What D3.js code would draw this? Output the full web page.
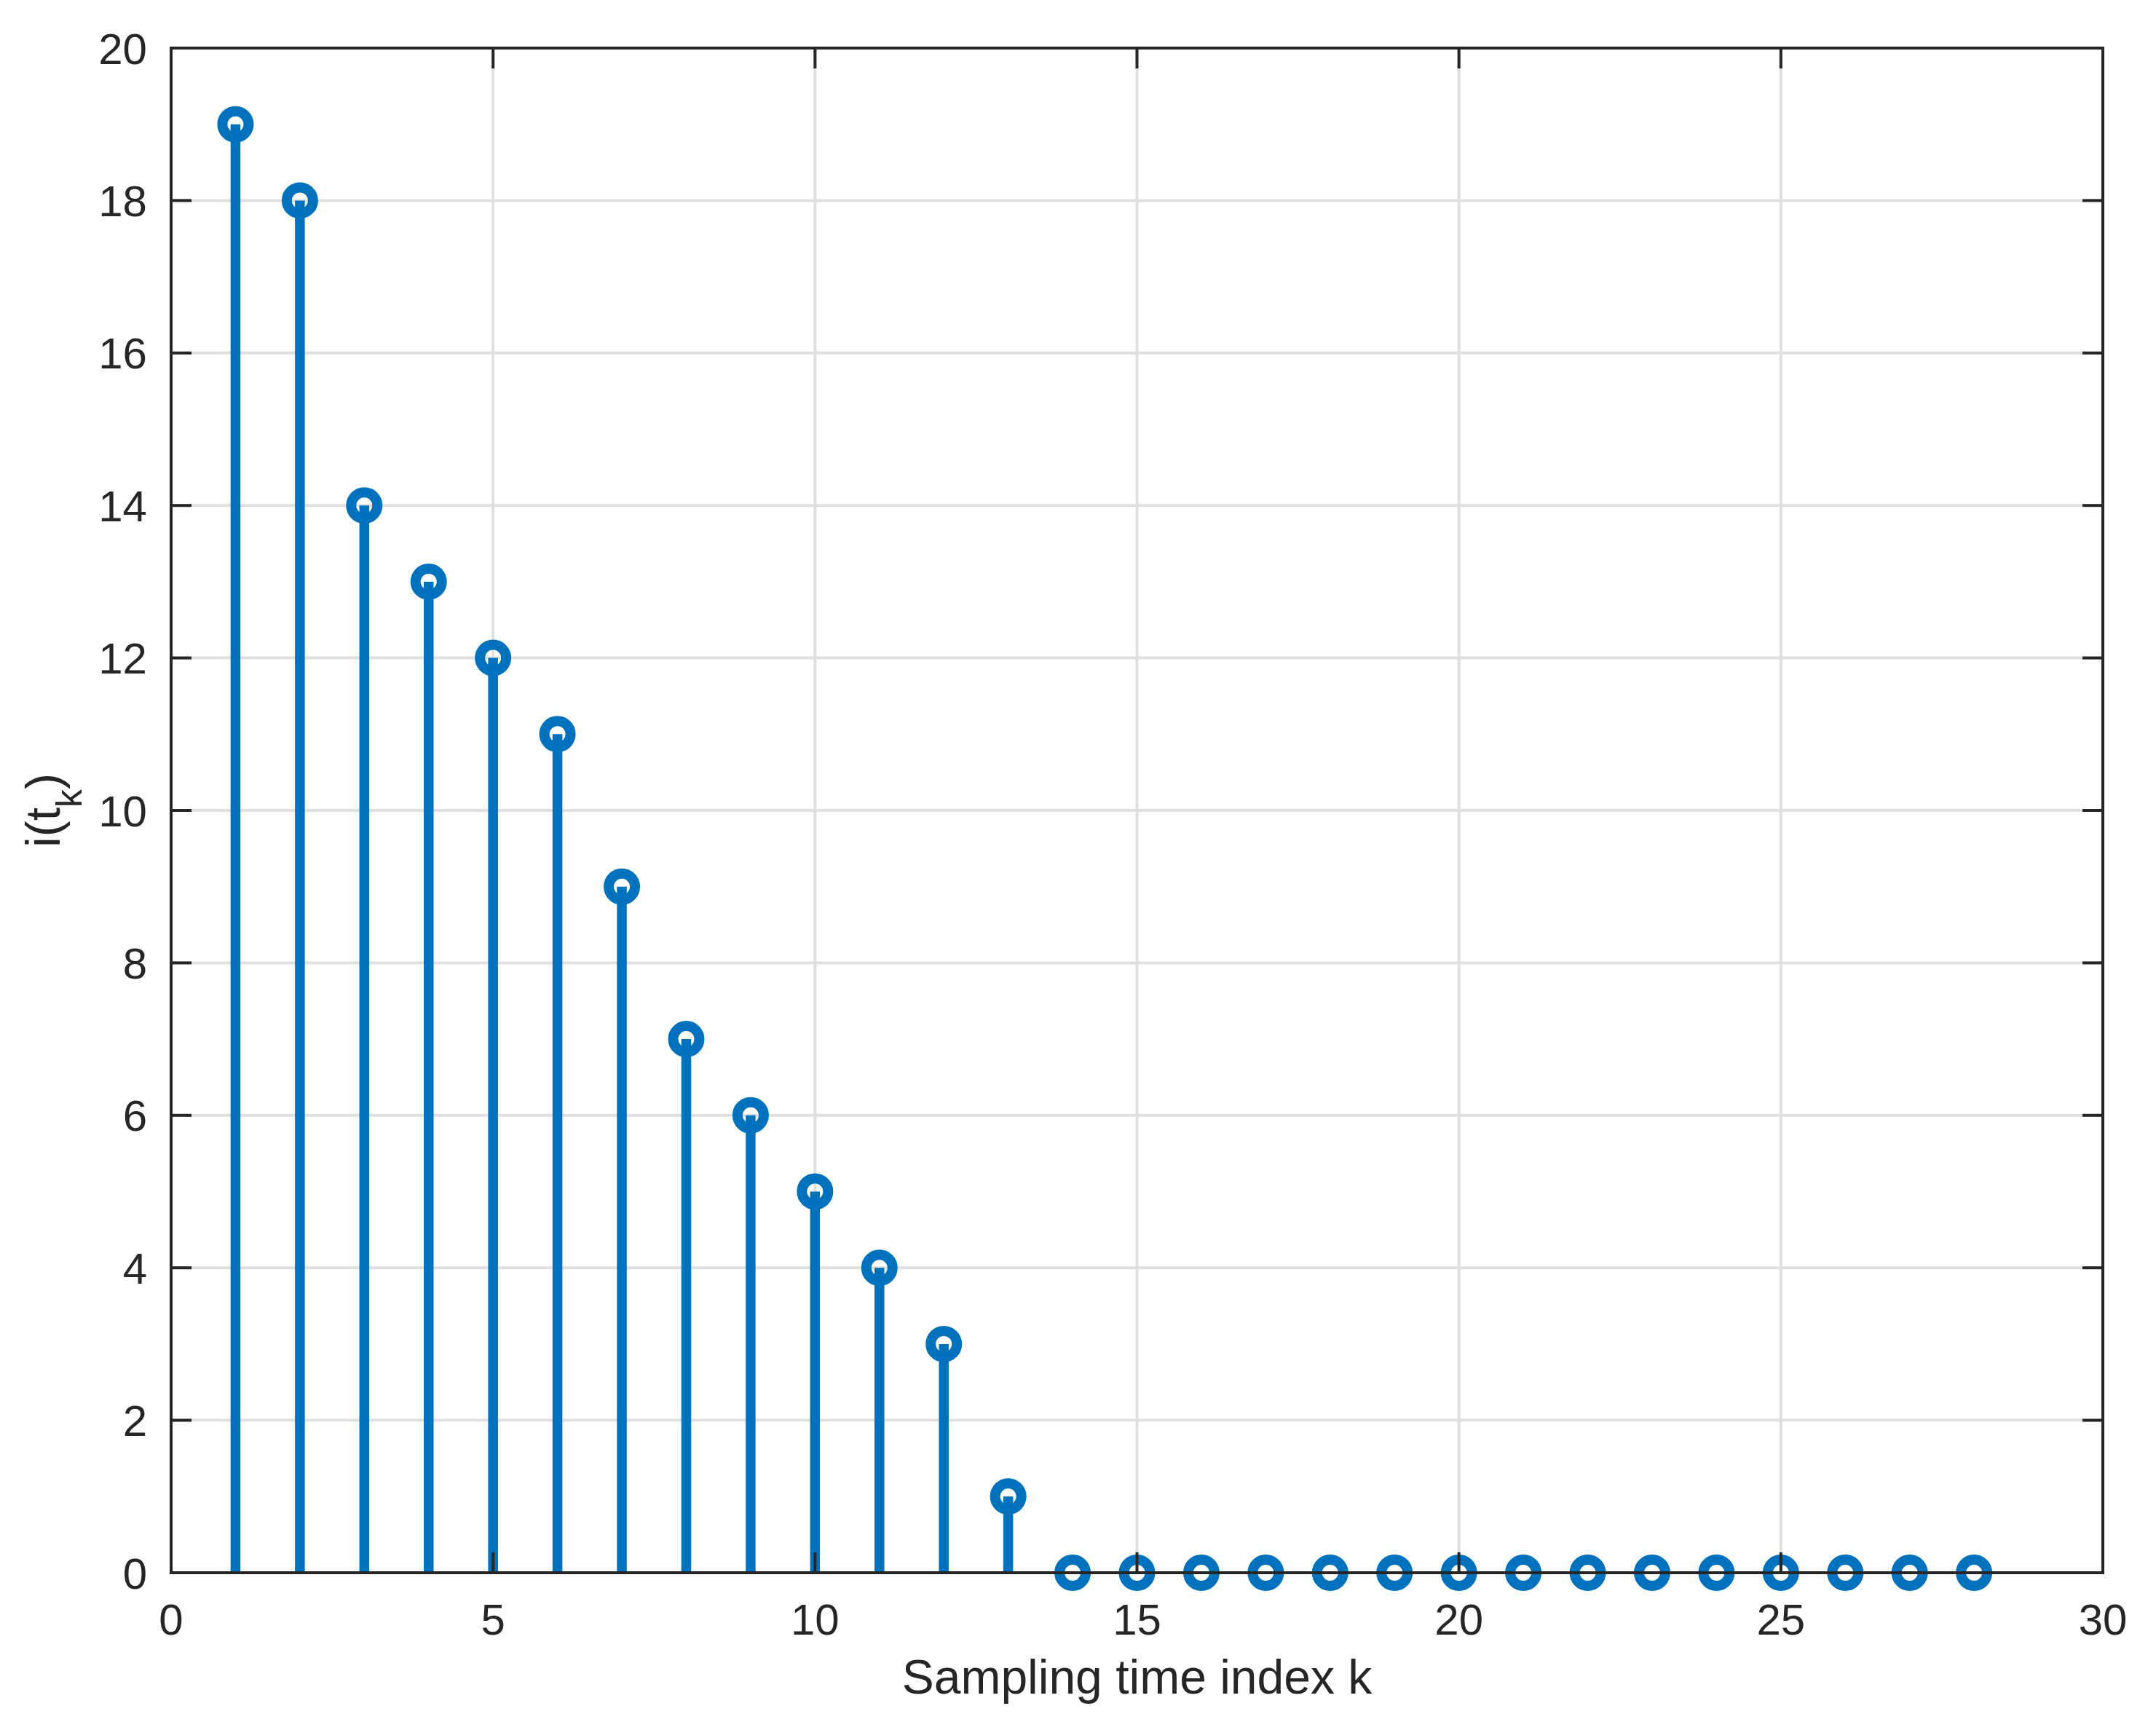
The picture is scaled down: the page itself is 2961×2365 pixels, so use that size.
<!DOCTYPE html>
<html>
<head>
<meta charset="utf-8">
<script src="https://cdn.jsdelivr.net/npm/d3@7"></script>
<style>
  html, body { margin: 0; padding: 0; background: #fff; }
  svg { display: block; }
  text { font-family: "Liberation Sans", Arial, Helvetica, sans-serif; fill: #262626; }
</style>
</head>
<body>
<script>
// ---- data ----
const kValues = [1,2,3,4,5,6,7,8,9,10,11,12,13,14,15,16,17,18,19,20,21,22,23,24,25,26,27,28];
const iValues = [19,18,14,13,12,11,9,7,6,5,4,3,1,0,0,0,0,0,0,0,0,0,0,0,0,0,0,0];
const xTicks = [0,5,10,15,20,25,30];
const yTicks = [0,2,4,6,8,10,12,14,16,18,20];
const xLabel = "Sampling time index k";

(function () {
// ---- layout ----
const W = 2961, H = 2365;
const pL = 235, pR = 2888, pT = 66, pB = 2160;
const axisColor = "#262626", gridColor = "#dfdfdf", dataColor = "#0072BD";
const tickLen = 28;

const svg = d3.select("body").append("svg").attr("width", W).attr("height", H);
svg.append("rect").attr("width", W).attr("height", H).attr("fill", "#fff");

const x = d3.scaleLinear().domain([0, 30]).range([pL, pR]);
const y = d3.scaleLinear().domain([0, 20]).range([pB, pT]);

// grid
const grid = svg.append("g");
grid.selectAll("line.gx").data(xTicks.slice(1, -1)).join("line")
  .attr("x1", d => x(d)).attr("x2", d => x(d)).attr("y1", pT).attr("y2", pB)
  .attr("stroke", gridColor).attr("stroke-width", 4);
grid.selectAll("line.gy").data(yTicks.slice(1, -1)).join("line")
  .attr("y1", d => y(d)).attr("y2", d => y(d)).attr("x1", pL).attr("x2", pR)
  .attr("stroke", gridColor).attr("stroke-width", 4);

// stems
const pts = kValues.map((k, i) => ({k, v: iValues[i]}));
svg.append("g").selectAll("line").data(pts).join("line")
  .attr("x1", d => x(d.k)).attr("x2", d => x(d.k))
  .attr("y1", y(0)).attr("y2", d => y(d.v))
  .attr("stroke", dataColor).attr("stroke-width", 13.5);

// markers
svg.append("g").selectAll("circle").data(pts).join("circle")
  .attr("cx", d => x(d.k)).attr("cy", d => y(d.v)).attr("r", 18)
  .attr("fill", "none").attr("stroke", dataColor).attr("stroke-width", 14);

// axes box with inward ticks on all sides
const ax = svg.append("g");
const tickStyle = sel => sel.attr("stroke", axisColor).attr("stroke-width", 4);
ax.selectAll("line.bt").data(xTicks).join("line")
  .attr("x1", d => x(d)).attr("x2", d => x(d)).attr("y1", pB).attr("y2", pB - tickLen).call(tickStyle);
ax.selectAll("line.tt").data(xTicks).join("line")
  .attr("x1", d => x(d)).attr("x2", d => x(d)).attr("y1", pT).attr("y2", pT + tickLen).call(tickStyle);
ax.selectAll("line.lt").data(yTicks).join("line")
  .attr("y1", d => y(d)).attr("y2", d => y(d)).attr("x1", pL).attr("x2", pL + tickLen).call(tickStyle);
ax.selectAll("line.rt").data(yTicks).join("line")
  .attr("y1", d => y(d)).attr("y2", d => y(d)).attr("x1", pR).attr("x2", pR - tickLen).call(tickStyle);
ax.append("rect").attr("x", pL).attr("y", pT).attr("width", pR - pL).attr("height", pB - pT)
  .attr("fill", "none").attr("stroke", axisColor).attr("stroke-width", 4).attr("stroke-linecap", "square");

// tick labels
svg.append("g").selectAll("text").data(xTicks).join("text")
  .attr("x", d => x(d)).attr("y", pB + 85)
  .attr("text-anchor", "middle").attr("font-size", 60).text(d => d);
svg.append("g").selectAll("text").data(yTicks).join("text")
  .attr("x", 202).attr("y", d => y(d) + 21.5)
  .attr("text-anchor", "end").attr("font-size", 60).text(d => d);

// axis labels
svg.append("text").attr("x", (pL + pR) / 2).attr("y", 2326)
  .attr("text-anchor", "middle").attr("font-size", 66).text(xLabel);

const yl = svg.append("text")
  .attr("transform", `translate(82,${(pT + pB) / 2}) rotate(-90)`)
  .attr("text-anchor", "middle").attr("font-size", 66);
yl.append("tspan").text("i(t");
yl.append("tspan").attr("font-size", 50).attr("dy", 30).text("k");
yl.append("tspan").attr("dy", -30).text(")");
})();
</script>
</body>
</html>
